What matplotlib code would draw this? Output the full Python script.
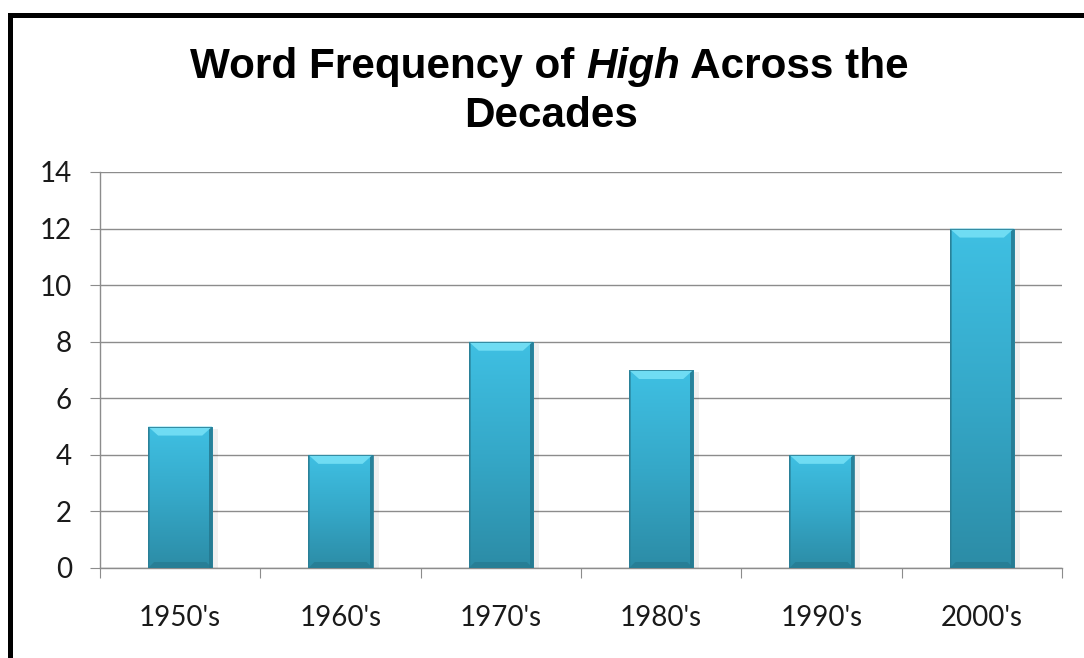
import numpy as np
import matplotlib.pyplot as plt
from matplotlib.lines import Line2D
from matplotlib.patches import Polygon, Rectangle
from matplotlib.colors import LinearSegmentedColormap

# data
decades = ["1950's", "1960's", "1970's", "1980's", "1990's", "2000's"]
frequency = [5, 4, 8, 7, 4, 12]
y_ticks = [0, 2, 4, 6, 8, 10, 12, 14]

W, H = 1084, 658
fig = plt.figure(figsize=(W / 100, H / 100), dpi=100)
ax = fig.add_axes([100 / W, 1 - 568 / H, 962 / W, 396 / H])

x = np.arange(len(decades))
bars = ax.bar(x, frequency, width=0.4, color='none', edgecolor='none', zorder=3)

ax.set_xlim(-0.5, len(decades) - 0.5)
ax.set_ylim(0, 14)

# pixel -> data scale for the bevel sizes
px_y = 14 / 396.0
px_x = len(decades) / 962.0

grad = LinearSegmentedColormap.from_list('bar', ['#2c8ca6', '#35a8c8', '#3fc0e3'])
for b in bars:
    x0, w, h = b.get_x(), b.get_width(), b.get_height()
    x1 = x0 + w
    # soft shadow to the right
    ax.add_patch(Rectangle((x0 + 2 * px_x, 0), w + 4 * px_x, h - 2 * px_y,
                           facecolor='#000000', alpha=0.06, lw=0, zorder=2))
    img = np.linspace(0, 1, 256).reshape(-1, 1)
    im = ax.imshow(img, cmap=grad, aspect='auto', origin='lower',
                   extent=(x0, x1, 0, h), zorder=3)
    im.set_clip_path(b)
    bx, by = 10 * px_x, 9 * px_y
    e = 3 * px_x
    # right edge (dark strip)
    ax.add_patch(Rectangle((x1 - e, 0), e, h, facecolor='#24788f', lw=0,
                           alpha=0.85, zorder=4))
    # left edge
    ax.add_patch(Rectangle((x0, 0), 2 * px_x, h, facecolor='#2a869f', lw=0,
                           alpha=0.7, zorder=4))
    # bottom edge
    ax.add_patch(Polygon([(x0, 0), (x1, 0), (x1 - 6 * px_x, 6 * px_y), (x0 + 6 * px_x, 6 * px_y)],
                         closed=True, facecolor='#25798f', lw=0, alpha=0.7, zorder=4))
    # top bevel (light)
    ax.add_patch(Polygon([(x0, h), (x1, h), (x1 - bx, h - by), (x0 + bx, h - by)],
                         closed=True, facecolor='#6fdcf3', lw=0, zorder=5))
    ax.add_patch(Rectangle((x0, 0), w, h, facecolor='none', edgecolor='#2a7d94',
                           lw=0.6, zorder=6))

ax.set_yticks(y_ticks)
ax.set_yticklabels([str(t) for t in y_ticks])
ax.set_xticks(x)
ax.set_xticklabels(decades)
ax.set_xticks(np.arange(-0.5, len(decades), 1), minor=True)

ax.grid(axis='y', color='#8c8c8c', lw=1, zorder=0)
ax.set_axisbelow(True)
for s in ['top', 'right']:
    ax.spines[s].set_visible(False)
for s in ['left', 'bottom']:
    ax.spines[s].set_color('#8c8c8c')
    ax.spines[s].set_linewidth(1)

ax.tick_params(axis='y', length=7.2, width=0.8, color='#8c8c8c', pad=13,
               labelsize=20, labelcolor='#1a1a1a')
ax.tick_params(axis='x', which='major', length=0, pad=27,
               labelsize=20, labelcolor='#1a1a1a')
ax.tick_params(axis='x', which='minor', length=7.2, width=0.8, color='#8c8c8c')
for lab in ax.get_xticklabels() + ax.get_yticklabels():
    lab.set_family(['Lato', 'DejaVu Sans'])

# title with italic word
title_size = 30.4
fam = ['Liberation Sans', 'DejaVu Sans']
parts = [("Word Frequency of ", 'normal'), ("High", 'italic'), (" Across the", 'normal')]
r = fig.canvas.get_renderer()
texts = []
for s, style in parts:
    t = fig.text(0, 1 - 78 / H, s, fontsize=title_size, fontweight='bold',
                 style=style, family=fam, ha='left', va='baseline')
    texts.append(t)
widths = [t.get_window_extent(r).width for t in texts]
start = 549 - sum(widths) / 2
for t, wd in zip(texts, widths):
    t.set_x(start / W)
    start += wd
fig.text(551 / W, 1 - 127 / H, "Decades", fontsize=title_size, fontweight='bold',
         family=fam, ha='center', va='baseline')

# black frame at top and left
fig.add_artist(Line2D([9.5 / W, 9.5 / W], [0, 1 - 14.5 / H], color='black', lw=3.6,
                      solid_capstyle='projecting', transform=fig.transFigure))
fig.add_artist(Line2D([9.5 / W, 1], [1 - 14.5 / H, 1 - 14.5 / H], color='black', lw=3.6,
                      solid_capstyle='projecting', transform=fig.transFigure))

fig.savefig('out.png', dpi=100)
